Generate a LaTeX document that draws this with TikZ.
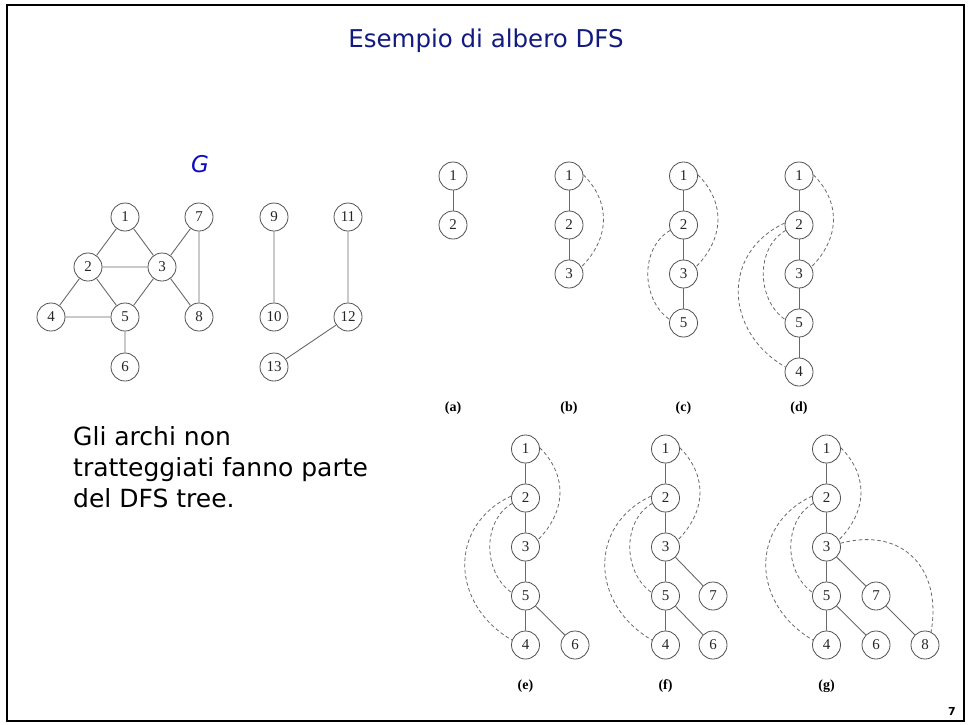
\documentclass[tikz,border=0pt]{standalone}
\usepackage{fontspec}
\newfontfamily\handfont{DejaVu Sans}
\newfontfamily\labelfont{Liberation Serif}
\definecolor{vtxgray}{RGB}{80,80,80}
\definecolor{edgegray}{RGB}{105,105,105}
\definecolor{titleblue}{RGB}{18,26,128}
\definecolor{gblue}{RGB}{12,12,190}
\begin{document}
\begin{tikzpicture}[x=1pt,y=1pt,
  vtx/.style={circle,draw=vtxgray,line width=0.8pt,minimum size=28pt,inner sep=0pt,
              text=black!85,font=\labelfont\fontsize{15}{16}\selectfont},
  treeedge/.style={draw=edgegray,line width=0.9pt},
  backedge/.style={draw=edgegray,line width=0.8pt,dash pattern=on 3.6pt off 2.6pt},
  sublabel/.style={font=\labelfont\bfseries\fontsize{14}{16}\selectfont},
  slidetext/.style={anchor=base west,inner sep=0pt,font=\handfont\fontsize{25}{31}\selectfont},
  rightarc/.style={backedge,out=-45,in=45,looseness=1.1},
  innerarc/.style={backedge,out=210,in=145},
  outerarc/.style={backedge,out=205,in=150,looseness=1.25},
  crossarc/.style={backedge,out=15,in=80,looseness=1.3},
]
\useasboundingbox (0,0) rectangle (969,-724);

% slide frame
\draw[line width=2.5pt] (7,-5) rectangle (964,-721);

% title and text
\node[anchor=base,inner sep=0pt,text=titleblue,font=\handfont\fontsize{24.5}{28}\selectfont]
  (title) at (486,-47) {Esempio di albero DFS};
\node[anchor=base,inner sep=0pt,text=gblue,font=\handfont\itshape\fontsize{23}{26}\selectfont]
  (gname) at (200,-172) {G};
\node[slidetext] (txt1) at (73,-445) {Gli archi non};
\node[slidetext] (txt2) at (73,-476) {tratteggiati fanno parte};
\node[slidetext] (txt3) at (73,-507) {del DFS tree.};
\node[anchor=base,inner sep=0pt,font=\handfont\bfseries\fontsize{11}{12}\selectfont]
  (pageno) at (952,-715) {7};

% ---------- the graph G ----------
\node[vtx] (v1)  at (125,-217) {1};
\node[vtx] (v7)  at (199,-217) {7};
\node[vtx] (v9)  at (274,-217) {9};
\node[vtx] (v11) at (348,-217) {11};
\node[vtx] (v2)  at (88,-267)  {2};
\node[vtx] (v3)  at (162,-267) {3};
\node[vtx] (v4)  at (51,-317)  {4};
\node[vtx] (v5)  at (125,-317) {5};
\node[vtx] (v8)  at (199,-317) {8};
\node[vtx] (v10) at (274,-317) {10};
\node[vtx] (v12) at (348,-317) {12};
\node[vtx] (v6)  at (125,-367) {6};
\node[vtx] (v13) at (274,-367) {13};
\draw[treeedge] (v1)--(v2) (v1)--(v3) (v2)--(v3) (v2)--(v4) (v2)--(v5)
  (v3)--(v5) (v3)--(v7) (v3)--(v8) (v7)--(v8) (v4)--(v5) (v5)--(v6)
  (v9)--(v10) (v11)--(v12) (v12)--(v13);

% ---------- (a) ----------
\node[vtx] (a1) at (453,-176) {1};
\node[vtx] (a2) at (453,-225) {2};
\draw[treeedge] (a1)--(a2);
\node[sublabel] (la) at (453,-408) {(a)};

% ---------- (b) ----------
\node[vtx] (b1) at (569,-176) {1};
\node[vtx] (b2) at (569,-225) {2};
\node[vtx] (b3) at (569,-274) {3};
\draw[treeedge] (b1)--(b2) (b2)--(b3);
\draw[rightarc] (b1.5) to (b3.30);
\node[sublabel] (lb) at (569,-408) {(b)};

% ---------- (c) ----------
\node[vtx] (c1) at (683.5,-176) {1};
\node[vtx] (c2) at (683.5,-225) {2};
\node[vtx] (c3) at (683.5,-274) {3};
\node[vtx] (c5) at (683.5,-323) {5};
\draw[treeedge] (c1)--(c2) (c2)--(c3) (c3)--(c5);
\draw[rightarc] (c1.5) to (c3.30);
\draw[innerarc] (c2.202) to (c5.166);
\node[sublabel] (lc) at (683.5,-408) {(c)};

% ---------- (d) ----------
\node[vtx] (d1) at (799,-176) {1};
\node[vtx] (d2) at (799,-225) {2};
\node[vtx] (d3) at (799,-274) {3};
\node[vtx] (d5) at (799,-323) {5};
\node[vtx] (d4) at (799,-372) {4};
\draw[treeedge] (d1)--(d2) (d2)--(d3) (d3)--(d5) (d5)--(d4);
\draw[rightarc] (d1.5) to (d3.30);
\draw[innerarc] (d2.202) to (d5.166);
\draw[outerarc] (d2.172) to (d4.160);
\node[sublabel] (ld) at (799,-408) {(d)};

% ---------- (e) ----------
\node[vtx] (e1) at (525.5,-449) {1};
\node[vtx] (e2) at (525.5,-498) {2};
\node[vtx] (e3) at (525.5,-547) {3};
\node[vtx] (e5) at (525.5,-596) {5};
\node[vtx] (e4) at (525.5,-645) {4};
\node[vtx] (e6) at (575,-645) {6};
\draw[treeedge] (e1)--(e2) (e2)--(e3) (e3)--(e5) (e5)--(e4) (e5)--(e6);
\draw[rightarc] (e1.5) to (e3.30);
\draw[innerarc] (e2.202) to (e5.166);
\draw[outerarc] (e2.172) to (e4.160);
\node[sublabel] (le) at (525.5,-686) {(e)};

% ---------- (f) ----------
\node[vtx] (f1) at (665.5,-449) {1};
\node[vtx] (f2) at (665.5,-498) {2};
\node[vtx] (f3) at (665.5,-547) {3};
\node[vtx] (f5) at (665.5,-596) {5};
\node[vtx] (f4) at (665.5,-645) {4};
\node[vtx] (f7) at (713,-596) {7};
\node[vtx] (f6) at (713,-645) {6};
\draw[treeedge] (f1)--(f2) (f2)--(f3) (f3)--(f5) (f5)--(f4) (f3)--(f7) (f5)--(f6);
\draw[rightarc] (f1.5) to (f3.30);
\draw[innerarc] (f2.202) to (f5.166);
\draw[outerarc] (f2.172) to (f4.160);
\node[sublabel] (lf) at (665.5,-686) {(f)};

% ---------- (g) ----------
\node[vtx] (t1) at (826.5,-449) {1};
\node[vtx] (t2) at (826.5,-498) {2};
\node[vtx] (t3) at (826.5,-547) {3};
\node[vtx] (t5) at (826.5,-596) {5};
\node[vtx] (t4) at (826.5,-645) {4};
\node[vtx] (t7) at (876,-596) {7};
\node[vtx] (t6) at (876,-645) {6};
\node[vtx] (t8) at (925,-645) {8};
\draw[treeedge] (t1)--(t2) (t2)--(t3) (t3)--(t5) (t5)--(t4) (t3)--(t7) (t5)--(t6) (t7)--(t8);
\draw[rightarc] (t1.5) to (t3.30);
\draw[innerarc] (t2.202) to (t5.166);
\draw[outerarc] (t2.172) to (t4.160);
\draw[crossarc] (t3.15) to (t8.65);
\node[sublabel] (lg) at (826.5,-686) {(g)};
\end{tikzpicture}
\end{document}
